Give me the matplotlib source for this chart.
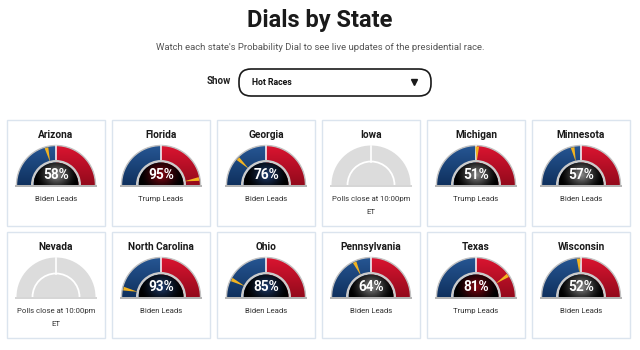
import numpy as np
import matplotlib
matplotlib.use("Agg")
import matplotlib.pyplot as plt
from matplotlib.patches import Wedge, Rectangle, FancyBboxPatch, Polygon, Arc

# ------------------------------------------------------------
# data
# ------------------------------------------------------------

states = ["Arizona", "Florida", "Georgia", "Iowa", "Michigan", "Minnesota",
          "Nevada", "North Carolina", "Ohio", "Pennsylvania", "Texas", "Wisconsin"]
probs = [58, 95, 76, None, 51, 57, None, 93, 85, 64, 81, 52]
leaders = ["Biden", "Trump", "Biden", None, "Trump", "Biden",
           None, "Biden", "Biden", "Biden", "Trump", "Biden"]
poll_close = ["", "", "", "10:00pm", "", "", "10:00pm", "", "", "", "", ""]

title = "Dials by State"
subtitle = "Watch each state's Probability Dial to see live updates of the presidential race."
show_option = "Hot Races"

FONT = ["Roboto", "DejaVu Sans"]

# ------------------------------------------------------------
# layout (pixels)
# ------------------------------------------------------------

W, H = 640, 350
card_x0, card_pitch, card_w = 7, 105, 98
row_y0, row_pitch, card_h = 120, 112, 106

R_OUT = 39.5
R_IN = 22.5
R_RING = 25.0

BLUE_TOP, BLUE_BOT = np.array([0.15, 0.34, 0.58]), np.array([0.06, 0.19, 0.37])
RED_TOP, RED_BOT = np.array([0.86, 0.08, 0.19]), np.array([0.58, 0.04, 0.11])

fig = plt.figure(figsize=(W / 100, H / 100), dpi=100)
ax = fig.add_axes([0, 0, 1, 1])
ax.set_xlim(0, W)
ax.set_ylim(H, 0)
ax.axis("off")


def vgrad(c_top, c_bot, n=64):
    t = np.linspace(0, 1, n)[:, None, None]
    col = c_top * (1 - t) + c_bot * t
    return np.repeat(col, 2, axis=1)


def clipped_image(img, extent, clip, z=2):
    ax.add_patch(clip)
    im = ax.imshow(img, extent=extent, origin="upper",
                   interpolation="bilinear", zorder=z)
    im.set_clip_path(clip)


def pt(cx, cy, r, phi):
    a = np.deg2rad(phi)
    return cx + r * np.cos(a), cy - r * np.sin(a)


def draw_dial(cx, base, p, leader):
    if p is None:
        ax.add_patch(Wedge((cx, base), R_OUT, 180, 360,
                           facecolor="#dcdcdc", edgecolor="none", zorder=2))
        ax.add_patch(Arc((cx, base), 2 * R_IN + 2, 2 * R_IN + 2,
                         theta1=180, theta2=360, color="white", lw=1.3, zorder=3))
        ax.plot([cx, cx], [base - R_IN - 1, base - R_OUT], color="white",
                lw=1.2, zorder=3)
        ax.add_patch(Rectangle((cx - 41, base - 0.5), 82, 2.5,
                               facecolor="#d6d6d6", edgecolor="none", zorder=3))
        return

    # blue / red halves
    clipped_image(vgrad(BLUE_TOP, BLUE_BOT), (cx - R_OUT, cx, base, base - R_OUT),
                  Wedge((cx, base), R_OUT, 180, 270, facecolor="none",
                        edgecolor="none"))
    clipped_image(vgrad(RED_TOP, RED_BOT), (cx, cx + R_OUT, base, base - R_OUT),
                  Wedge((cx, base), R_OUT, 270, 360, facecolor="none",
                        edgecolor="none"))
    ax.add_patch(Arc((cx, base), 2 * R_OUT, 2 * R_OUT, theta1=180, theta2=360,
                     color="#c2c2c2", lw=1.0, zorder=3))
    ax.plot([cx, cx], [base - R_RING, base - R_OUT + 0.5], color="white",
            lw=1.1, zorder=3)

    # needle
    phi = 90 + (p - 50) / 50 * 90 if leader == "Biden" else 90 - (p - 50) / 50 * 90
    tip = pt(cx, base, R_IN + 1, phi)
    b1 = pt(cx, base, R_OUT - 1, phi + 2.8)
    b2 = pt(cx, base, R_OUT - 1, phi - 2.8)
    ax.add_patch(Polygon([tip, b1, b2], closed=True, facecolor="#f2b320",
                         edgecolor="none", zorder=4))

    # grey ring + dark centre
    ax.add_patch(Wedge((cx, base), R_RING, 180, 360, width=R_RING - R_IN,
                       facecolor="#cbcbcb", edgecolor="none", zorder=5))
    if p >= 70:
        glow = np.array([0.13, 0.25, 0.45]) if leader == "Biden" else np.array([0.55, 0.03, 0.08])
    else:
        glow = np.array([0.55, 0.55, 0.55])
    xs = np.linspace(-R_IN, R_IN, 90)
    ys = np.linspace(R_IN, 0, 45)
    gx, gy = np.meshgrid(xs, ys)
    d = np.sqrt(gx ** 2 + ((gy - 10) * 1.15) ** 2) / (R_IN * 0.95)
    t = np.clip(1 - d, 0, 1) ** 1.4
    img = glow[None, None, :] * t[:, :, None]
    clipped_image(img, (cx - R_IN, cx + R_IN, base, base - R_IN),
                  Wedge((cx, base), R_IN, 180, 360, facecolor="none",
                        edgecolor="none"), z=6)

    ax.text(cx, base - 10, f"{p}%", ha="center", va="center", color="white",
            fontsize=9.8, fontweight="bold", family=FONT, zorder=7)

    # base bar
    ax.add_patch(Rectangle((cx - 41, base - 0.5), 82, 2.5,
                           facecolor="#b4b4b4", edgecolor="none", zorder=7))


# ------------------------------------------------------------
# header
# ------------------------------------------------------------

ax.text(W / 2, 20, title, ha="center", va="center", fontsize=17,
        fontweight="bold", family=FONT, color="#1a1a1a")
ax.text(W / 2, 48, subtitle, ha="center", va="center", fontsize=6.8,
        family=FONT, color="#555555")
ax.text(218.5, 81.5, "Show", ha="center", va="center", fontsize=7,
        fontweight="bold", family=FONT, color="#222222")
ax.add_patch(FancyBboxPatch((239, 69), 192, 27,
                            boxstyle="round,pad=0,rounding_size=12",
                            facecolor="white", edgecolor="#1a1a1a", lw=1.2))
ax.text(252, 82.5, show_option, ha="left", va="center", fontsize=6.3,
        fontweight="bold", family=FONT, color="#111111")
ax.plot([414], [82], marker="v", markersize=4.5, color="#1a1a1a")

# ------------------------------------------------------------
# cards
# ------------------------------------------------------------

for i, state in enumerate(states):
    row, col = divmod(i, 6)
    x0 = card_x0 + col * card_pitch
    y0 = row_y0 + row * row_pitch
    cx = x0 + card_w / 2

    ax.add_patch(Rectangle((x0, y0), card_w, card_h, facecolor="white",
                           edgecolor="#dbe4ee", lw=1.0, zorder=1))
    ax.text(cx, y0 + 15, state, ha="center", va="center", fontsize=7.3,
            fontweight="bold", family=FONT, color="#1a1a1a", zorder=3)

    draw_dial(cx, y0 + 65, probs[i], leaders[i])

    if probs[i] is None:
        ax.text(cx, y0 + 79.5, f"Polls close at {poll_close[i]}", ha="center",
                va="center", fontsize=5.6, family=FONT, color="#333333")
        ax.text(cx, y0 + 92.5, "ET", ha="center", va="center", fontsize=5.6,
                family=FONT, color="#333333")
    else:
        ax.text(cx, y0 + 79, f"{leaders[i]} Leads", ha="center", va="center",
                fontsize=5.6, family=FONT, color="#333333")

ax.set_xlim(0, W)
ax.set_ylim(H, 0)
fig.savefig("out.png", dpi=100, facecolor="white")
